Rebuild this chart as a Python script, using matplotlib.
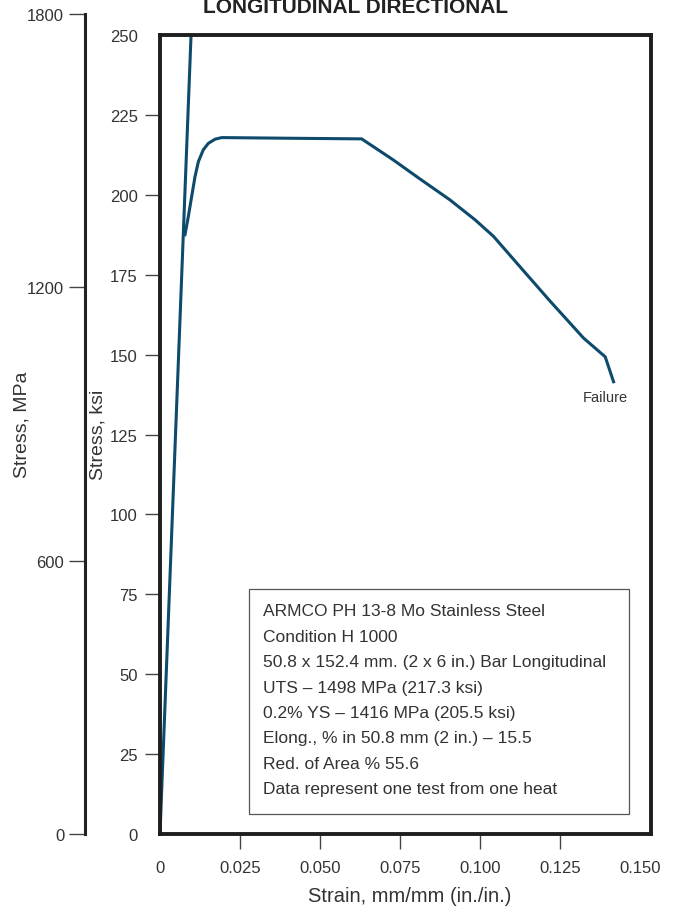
import matplotlib
matplotlib.use("Agg")
import numpy as np
import matplotlib.pyplot as plt

plt.rcParams['font.family'] = ['Liberation Sans', 'DejaVu Sans']

# curve (strain in in./in., stress in ksi)
elastic_strain = [0.0, 0.0097]
elastic_stress = [0.0, 250.0]

plastic_strain = [0.0078, 0.00885, 0.0099, 0.01094, 0.0120, 0.01354, 0.0151,
                  0.0172, 0.0193, 0.0400, 0.0630, 0.0729, 0.0813, 0.0906,
                  0.0984, 0.1042, 0.1115, 0.1219, 0.1323, 0.1391, 0.1417]
plastic_stress = [187.5, 193.2, 199.5, 205.7, 210.4, 214.1, 216.1,
                  217.4, 217.9, 217.7, 217.5, 210.9, 204.9, 198.4,
                  192.2, 187.0, 178.6, 166.7, 155.2, 149.3, 141.5]

ksi_ticks = [0, 25, 50, 75, 100, 125, 150, 175, 200, 225, 250]
mpa_ticks = [0, 600, 1200, 1800]
strain_ticks = [0, 0.025, 0.050, 0.075, 0.100, 0.125, 0.150]
strain_labels = ["0", "0.025", "0.050", "0.075", "0.100", "0.125", "0.150"]

info_lines = [
    "ARMCO PH 13-8 Mo Stainless Steel",
    "Condition H 1000",
    "50.8 x 152.4 mm. (2 x 6 in.) Bar Longitudinal",
    "UTS \u2013 1498 MPa (217.3 ksi)",
    "0.2% YS \u2013 1416 MPa (205.5 ksi)",
    "Elong., % in 50.8 mm (2 in.) \u2013 15.5",
    "Red. of Area % 55.6",
    "Data represent one test from one heat",
]

W, H = 682, 912
fig = plt.figure(figsize=(W / 100, H / 100), dpi=100)
txt = "#333333"
line_col = "#0d4a6b"

def fx(px):
    return px / W

def fy(py):
    return 1 - py / H

# MPa axis (separate spine on the far left)
ax2 = fig.add_axes([fx(85), fy(835), 0.01, (835 - 15) / H])
ax2.set_facecolor("none")
for s in ["top", "right", "bottom"]:
    ax2.spines[s].set_visible(False)
ax2.spines["left"].set_linewidth(2.2)
ax2.spines["left"].set_color("#222222")
ax2.set_xticks([])
ax2.set_ylim(0, 1800)
ax2.set_yticks(mpa_ticks)
ax2.tick_params(axis="y", direction="out", length=11.5, width=1.0, color="#444444",
                pad=3.5, labelsize=12, labelcolor=txt)

# main axes
ax = fig.add_axes([fx(160), fy(835), (651 - 160) / W, (835 - 36) / H])
ax.plot(elastic_strain, elastic_stress, color=line_col, lw=2.2, clip_on=True)
ax.plot(plastic_strain, plastic_stress, color=line_col, lw=2.2,
        solid_joinstyle="round")
ax.set_xlim(0, 0.1534)
ax.set_ylim(0, 250)
for s in ax.spines.values():
    s.set_linewidth(2.8)
    s.set_color("#1e1e1e")

ax.set_yticks(ksi_ticks)
ax.tick_params(axis="y", direction="out", length=11, width=1.0, color="#444444",
               pad=5, labelsize=12, labelcolor=txt)
ax.set_xticks(strain_ticks)
ax.set_xticklabels(strain_labels)
ax.tick_params(axis="x", direction="out", length=11, width=1.0, color="#444444",
               pad=8, labelsize=12, labelcolor=txt)
yt = ax.yaxis.get_major_ticks()
yt[0].tick1line.set_visible(False)
yt[-1].tick1line.set_visible(False)
xt = ax.xaxis.get_major_ticks()
xt[0].tick1line.set_visible(False)
xt[-1].tick1line.set_visible(False)

ax.text(0.1390, 136.6, "Failure", ha="center", va="center", fontsize=10.5, color=txt)

# info box
box = plt.Rectangle((fx(249), fy(815)), (629 - 249) / W, (815 - 590) / H,
                    transform=fig.transFigure, fill=True, facecolor="white",
                    edgecolor="#555555", lw=0.9, zorder=5)
fig.patches.append(box)
for i, line in enumerate(info_lines):
    fig.text(fx(263), fy(612 + i * 25.4), line, ha="left", va="center",
             fontsize=12.5, color=txt, zorder=6)

# labels
fig.text(fx(22), fy(425), "Stress, MPa", rotation=90, ha="center", va="center",
         fontsize=14, color=txt)
fig.text(fx(98), fy(435), "Stress, ksi", rotation=90, ha="center", va="center",
         fontsize=14, color=txt)
fig.text(fx(410), fy(897), "Strain, mm/mm (in./in.)", ha="center", va="center",
         fontsize=14.5, color=txt)
fig.text(fx(356), fy(13), "LONGITUDINAL DIRECTIONAL", ha="center", va="baseline",
         fontsize=15, fontweight="bold", color="#222222")

fig.savefig("out.png", dpi=100)
